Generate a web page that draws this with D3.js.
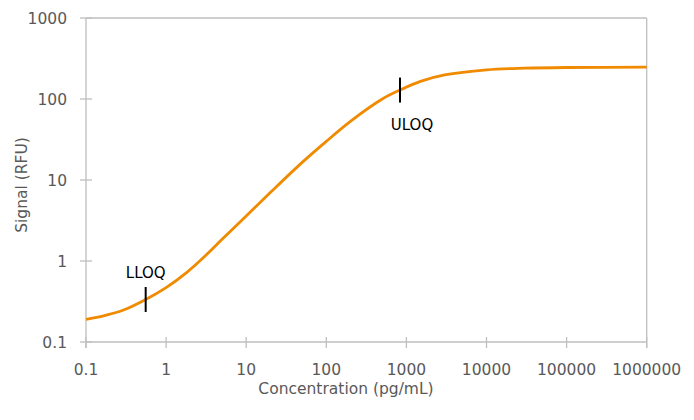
<!DOCTYPE html>
<meta charset="utf-8">
<style>
body { margin: 0; background: #fff; }
svg { display: block; font-family: "DejaVu Sans", sans-serif; }
.frame line { stroke: #bfbfbf; stroke-width: 1.3; }
.tick-label { fill: #595959; font-size: 15.5px; }
.axis-title { fill: #595959; font-size: 15.5px; }
.curve { fill: none; stroke: #f08a00; stroke-width: 2.8; }
.q-mark { stroke: #000; stroke-width: 2; }
.q-label { fill: #000; font-size: 15px; }
</style>
<svg width="694" height="420"></svg>
<script src="https://cdn.jsdelivr.net/npm/d3@7"></script>
<script>

// values
var conc   = [0.1, 0.18, 0.3, 0.556, 1, 1.8, 3.2, 5, 10, 20, 50, 100, 200, 500, 832, 1500, 3000, 10000, 30000, 100000, 1000000];
var signal = [0.19, 0.215, 0.25, 0.335, 0.47, 0.72, 1.2, 1.85, 3.6, 7.0, 16.5, 30, 53, 100, 129, 165, 198, 229, 240, 245, 247];

var qNames  = ["LLOQ", "ULOQ"];
var qConc   = [0.556, 832];
var qSignal = [0.335, 129];

var xTicks = [0.1, 1, 10, 100, 1000, 10000, 100000, 1000000];
var yTicks = [0.1, 1, 10, 100, 1000];

var xTitle = "Concentration (pg/mL)",
    yTitle = "Signal (RFU)";

var svg = d3.select("svg");

var x = d3.scaleLog()
    .domain([0.1, 1000000])
    .range([86, 646.7]);

var y = d3.scaleLog()
    .domain([0.1, 1000])
    .range([342, 18]);

var frame = svg.append("g").attr("class", "frame");

// box: top and right lines
frame.append("line")
    .attr("x1", x.range()[0]).attr("x2", x.range()[1])
    .attr("y1", y(1000)).attr("y2", y(1000));
frame.append("line")
    .attr("x1", x(1000000)).attr("x2", x(1000000))
    .attr("y1", y.range()[1]).attr("y2", y.range()[0] + 6);

// axis lines
frame.append("line")
    .attr("x1", x.range()[0]).attr("x2", x.range()[1])
    .attr("y1", y(0.1)).attr("y2", y(0.1));
frame.append("line")
    .attr("x1", x(0.1)).attr("x2", x(0.1))
    .attr("y1", y.range()[1]).attr("y2", y.range()[0] + 6);

// ticks that cross the axes
frame.selectAll(".xt")
  .data(xTicks)
  .enter().append("line")
    .attr("class", "xt")
    .attr("x1", function(d) { return x(d); })
    .attr("x2", function(d) { return x(d); })
    .attr("y1", y(0.1) - 5)
    .attr("y2", y(0.1) + 6);

frame.selectAll(".yt")
  .data(yTicks)
  .enter().append("line")
    .attr("class", "yt")
    .attr("x1", x(0.1) - 6)
    .attr("x2", x(0.1) + 6)
    .attr("y1", function(d) { return y(d); })
    .attr("y2", function(d) { return y(d); });

svg.selectAll(".xl")
  .data(xTicks)
  .enter().append("text")
    .attr("class", "tick-label")
    .attr("x", function(d) { return x(d); })
    .attr("y", 375)
    .attr("text-anchor", "middle")
    .text(function(d) { return String(d); });

svg.selectAll(".yl")
  .data(yTicks)
  .enter().append("text")
    .attr("class", "tick-label")
    .attr("x", 67)
    .attr("y", function(d) { return y(d) + 5.5; })
    .attr("text-anchor", "end")
    .text(function(d) { return String(d); });

svg.append("text")
    .attr("class", "axis-title")
    .attr("x", 346)
    .attr("y", 394)
    .attr("text-anchor", "middle")
    .text(xTitle);

svg.append("text")
    .attr("class", "axis-title")
    .attr("transform", "translate(26.5,185) rotate(-90)")
    .attr("text-anchor", "middle")
    .text(yTitle);

var line = d3.line()
    .x(function(d) { return x(d[0]); })
    .y(function(d) { return y(d[1]); })
    .curve(d3.curveCatmullRom.alpha(0.5));

svg.append("path")
    .datum(d3.zip(conc, signal))
    .attr("class", "curve")
    .attr("d", line);

var q = d3.zip(qNames, qConc, qSignal);

svg.selectAll(".q-mark")
  .data(q)
  .enter().append("line")
    .attr("class", "q-mark")
    .attr("x1", function(d) { return x(d[1]); })
    .attr("x2", function(d) { return x(d[1]); })
    .attr("y1", function(d) { return y(d[2]) - 12.5; })
    .attr("y2", function(d) { return y(d[2]) + 12.5; });

svg.selectAll(".q-label")
  .data(q)
  .enter().append("text")
    .attr("class", "q-label")
    .attr("text-anchor", "middle")
    .attr("x", function(d, i) { return x(d[1]) + (i === 0 ? 0 : 12); })
    .attr("y", function(d, i) { return i === 0 ? y(d[2]) - 21 : y(d[2]) + 40; })
    .text(function(d) { return d[0]; });

</script>
